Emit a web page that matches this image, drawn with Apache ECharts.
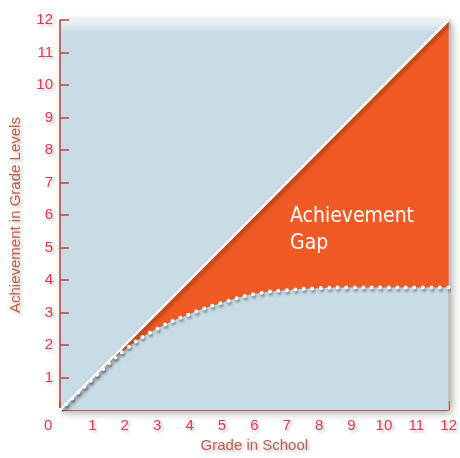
<!DOCTYPE html>
<html>
<head>
<meta charset="utf-8">
<script src="https://cdn.jsdelivr.net/npm/echarts@6/dist/echarts.min.js"></script>
<style>
  html, body { margin: 0; padding: 0; background: #fff; }
  #main { width: 460px; height: 458px; }
</style>
</head>
<body>
<div id="main"></div>
<script>
// grade in school (x) and expected achievement (the diagonal)
var grades = [0, 1, 2, 3, 4, 5, 6, 7, 8, 9, 10, 11, 12]
var expected = [0, 1, 2, 3, 4, 5, 6, 7, 8, 9, 10, 11, 12]
var actual = [0, 0.95, 1.85, 2.5, 2.95, 3.3, 3.57, 3.69, 3.75, 3.77, 3.77, 3.77, 3.77]

var tickColor = '#e8374d'
var nameColor = '#c45c4a'
var axisColor = '#b5453b'
var orange = '#f15a24'
var plotBlue = '#c8dce5'
var textShadow = {
    textShadowColor: 'rgba(0,0,0,0.25)',
    textShadowBlur: 3,
    textShadowOffsetX: 2,
    textShadowOffsetY: 2
}

var chart = echarts.init(document.getElementById('main'), null, { renderer: 'canvas' })

var actualPts = grades.map(function (g, i) { return [g, actual[i]] })
var diagPts = grades.map(function (g, i) { return [g, expected[i]] })

var option = {
    animation: false,
    backgroundColor: '#fff',
    grid: {
        left: 59, right: 7, top: 20, bottom: 44,
        show: true,
        borderWidth: 0,
        backgroundColor: new echarts.graphic.LinearGradient(0, 0, 0, 1, [
            { offset: 0, color: '#eef5f8' },
            { offset: 0.03, color: '#c9dce5' },
            { offset: 1, color: plotBlue }
        ]),
        shadowColor: 'rgba(0,0,0,0.35)',
        shadowBlur: 8,
        shadowOffsetX: 3,
        shadowOffsetY: 3
    },
    xAxis: {
        type: 'value',
        min: 0, max: 12, interval: 1,
        name: 'Grade in School',
        nameLocation: 'middle',
        nameGap: 27,
        nameTextStyle: Object.assign({ color: nameColor, fontSize: 15, fontFamily: 'Liberation Sans' }, textShadow),
        axisLine: { lineStyle: { color: axisColor, width: 1.5 } },
        axisTick: { inside: true, length: 9, lineStyle: { color: axisColor, width: 1.5 } },
        axisLabel: Object.assign({
            color: tickColor, fontSize: 15, fontFamily: 'Liberation Sans', margin: 8,
            formatter: function (v) { return v === 0 ? '' : v }
        }, textShadow),
        splitLine: { show: false }
    },
    yAxis: {
        type: 'value',
        min: 0, max: 12, interval: 1,
        name: 'Achievement in Grade Levels',
        nameLocation: 'middle',
        nameGap: 37,
        nameTextStyle: Object.assign({ color: nameColor, fontSize: 15, fontFamily: 'Liberation Sans' }, textShadow),
        axisLine: { show: true, lineStyle: { color: axisColor, width: 1.5 } },
        axisTick: { show: true, inside: true, length: 9, lineStyle: { color: axisColor, width: 1.5 } },
        axisLabel: Object.assign({
            color: tickColor, fontSize: 15, fontFamily: 'Liberation Sans', margin: 7,
            formatter: function (v) { return v === 0 ? '' : v }
        }, textShadow),
        splitLine: { show: false }
    },
    graphic: [{
        type: 'text',
        left: 44, top: 418,
        style: {
            text: '0', fill: tickColor, font: '15px "Liberation Sans"',
            shadowColor: 'rgba(0,0,0,0.25)', shadowBlur: 3, shadowOffsetX: 2, shadowOffsetY: 2
        }
    }, {
        type: 'text',
        left: 290, top: 203,
        z: 100,
        style: {
            text: 'Achievement\nGap',
            fill: '#fff',
            font: '21px "DejaVu Sans Condensed", "DejaVu Sans"',
            lineHeight: 27,
            shadowColor: 'rgba(0,0,0,0.35)', shadowBlur: 3, shadowOffsetX: 2, shadowOffsetY: 2
        }
    }],
    series: [
        {
            // everything under the diagonal is orange
            type: 'line', data: diagPts,
            symbol: 'none',
            lineStyle: { width: 0 },
            areaStyle: { color: orange, opacity: 1 },
            silent: true, z: 1
        },
        {
            // below the actual curve goes back to the plot blue
            type: 'line', data: actualPts,
            smooth: true, symbol: 'none',
            lineStyle: { width: 0 },
            areaStyle: { color: plotBlue, opacity: 1 },
            silent: true, z: 2
        },
        {
            type: 'line', data: diagPts,
            symbol: 'none',
            lineStyle: {
                color: '#fff', width: 2.5,
                shadowColor: 'rgba(0,0,0,0.45)', shadowBlur: 4, shadowOffsetX: 2, shadowOffsetY: 2
            },
            z: 3
        },
        {
            type: 'line', data: actualPts,
            smooth: true, symbol: 'none',
            lineStyle: {
                color: '#fff', width: 4, type: [0, 8.5], cap: 'round',
                shadowColor: 'rgba(0,0,0,0.55)', shadowBlur: 3, shadowOffsetX: 1, shadowOffsetY: 2
            },
            z: 4
        }
    ]
}

chart.setOption(option)
</script>
</body>
</html>
